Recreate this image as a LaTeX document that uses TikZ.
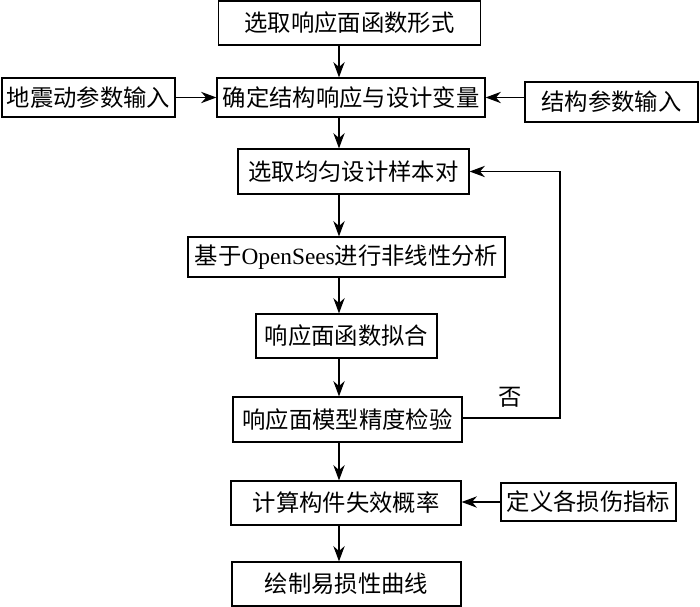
\documentclass[tikz,border=0pt]{standalone}
\usepackage{fontspec}
\setmainfont{Liberation Serif}
\newfontfamily\cjk{Noto Sans CJK SC}
\usetikzlibrary{arrows.meta,calc}

\begin{document}
\begin{tikzpicture}[x=0.75pt, y=-0.75pt,
  box/.style={draw, line width=0.9pt, inner sep=0pt, font=\cjk\fontsize{17.5}{20}\selectfont},
  flow/.style={-{Stealth[length=11.5pt,width=8.5pt]}, line width=0.9pt}]
\useasboundingbox (0,0) rectangle (700,607);
% Main chain
\node[box, minimum width=197pt, minimum height=33pt] (form) at (349.5,23) {选取响应面函数形式};
\node[box, minimum width=201pt, minimum height=29.25pt] (vars) at (351,97.5) {确定结构响应与设计变量};
\node[box, minimum width=173.25pt, minimum height=33.75pt] (sample) at (353.5,171.5) {选取均匀设计样本对};
\node[box, minimum width=237.75pt, minimum height=30pt] (fem) at (346.5,257) {基于{\rmfamily OpenSees}进行非线性分析};
\node[box, minimum width=135.75pt, minimum height=33pt] (fit) at (346.5,336) {响应面函数拟合};
\node[box, minimum width=171.75pt, minimum height=33.75pt] (check) at (347.5,419.5) {响应面模型精度检验};
\node[box, minimum width=172.5pt, minimum height=33pt] (fail) at (346,503) {计算构件失效概率};
\node[box, minimum width=171.75pt, minimum height=33pt] (curve) at (346.5,584) {绘制易损性曲线};
% Inputs
\node[box, minimum width=129.75pt, minimum height=29.25pt] (quake) at (88.5,97.5) {地震动参数输入};
\node[box, minimum width=129.75pt, minimum height=30pt] (struct) at (611.5,102) {结构参数输入};
\node[box, minimum width=131.25pt, minimum height=28.5pt] (damage) at (588.5,502) {定义各损伤指标};
% Vertical arrows along one spine
\coordinate (spine) at (339,0);
\draw[flow] (form.south -| spine) -- (vars.north -| spine);
\draw[flow] (vars.south -| spine) -- (sample.north -| spine);
\draw[flow] (sample.south -| spine) -- (fem.north -| spine);
\draw[flow] (fem.south -| spine) -- (fit.north -| spine);
\draw[flow] (fit.south -| spine) -- (check.north -| spine);
\draw[flow] (check.south -| spine) -- (fail.north -| spine);
\draw[flow] (fail.south -| spine) -- (curve.north -| spine);
% Side inputs
\draw[flow] (quake.east) -- (vars.west);
\draw[flow] (struct.west |- vars.east) -- (vars.east);
\draw[flow] (damage.west) -- (damage.west -| fail.east);
% Feedback loop
\coordinate (loop) at (560,418);
\draw[flow] (check.east |- loop) -- (loop) |- (sample.east);
\node[font=\cjk\fontsize{17.5}{20}\selectfont] (no) at (510,397) {否};
\end{tikzpicture}
\end{document}
